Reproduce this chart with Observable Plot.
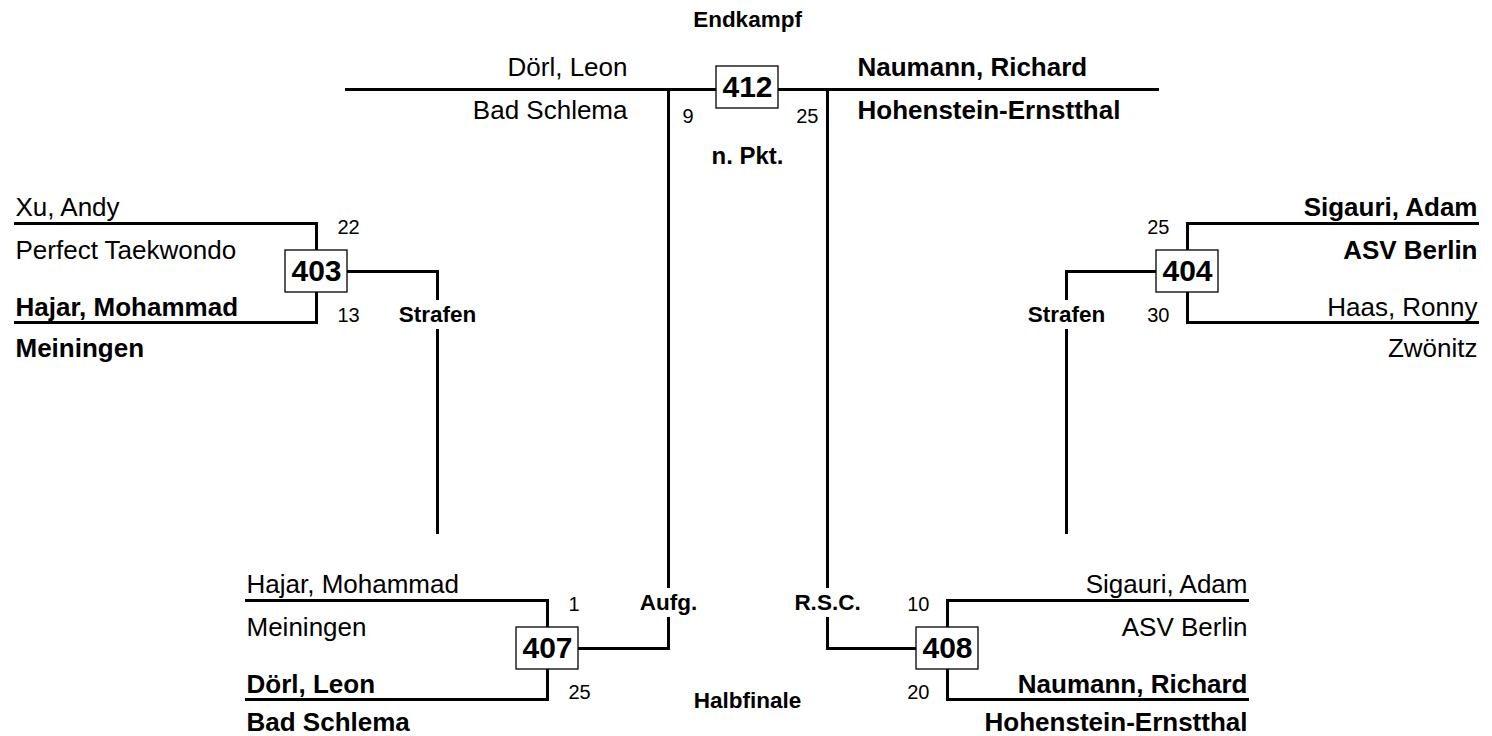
<!DOCTYPE html>
<html>
<head>
<meta charset="utf-8">
<script src="https://cdn.jsdelivr.net/npm/d3@7"></script>
<script src="https://cdn.jsdelivr.net/npm/@observablehq/plot@0.6"></script>
<style>
  html, body { margin: 0; padding: 0; background: #fff; }
  #chart svg { display: block; }
</style>
</head>
<body>
<div id="chart"></div>
<script>
// ---- Data (read from the bracket) ----
const matchIds     = ["403", "404", "407", "408", "412"];
const topNames     = ["Xu, Andy", "Sigauri, Adam", "Hajar, Mohammad", "Sigauri, Adam", "Dörl, Leon"];
const topClubs     = ["Perfect Taekwondo", "ASV Berlin", "Meiningen", "ASV Berlin", "Bad Schlema"];
const bottomNames  = ["Hajar, Mohammad", "Haas, Ronny", "Dörl, Leon", "Naumann, Richard", "Naumann, Richard"];
const bottomClubs  = ["Meiningen", "Zwönitz", "Bad Schlema", "Hohenstein-Ernstthal", "Hohenstein-Ernstthal"];
const topScores    = [22, 25, 1, 10, 9];
const bottomScores = [13, 30, 25, 20, 25];
const winners      = ["bottom", "top", "bottom", "bottom", "bottom"];
const decisions    = ["Strafen", "Strafen", "Aufg.", "R.S.C.", "n. Pkt."];
const roundTitles  = ["Endkampf", "Halbfinale"];

// ---- Layout (bracket geometry) ----
const W = 1492, H = 736;
const layout = {
  "403": {cx: 316,  cy: 271, dir: -1, reach: 301, outX: 437,  outY: 532, labelDy: 43},
  "404": {cx: 1187, cy: 271, dir:  1, reach: 290, outX: 1066, outY: 532, labelDy: 43},
  "407": {cx: 547,  cy: 648, dir: -1, reach: 301, outX: 668,  outY: 89,  labelDy: -46},
  "408": {cx: 947,  cy: 648, dir:  1, reach: 300, outX: 827,  outY: 89,  labelDy: -46}
};
const fin = {cx: 747, lineY: 89, left: 346, right: 1157, leftX: 668, rightX: 827};
const BOX_W = 31, BOX_H = 21, TOP_OFF = 48, BOT_OFF = 51, GAP = 16;
const NAME = 26, SCORE = 20, LABEL = 22.5, NUM = 30;

const segs = [], boxes = [], texts = [];

matchIds.forEach((id, i) => {
  const topWin = winners[i] === "top";
  if (id === "412") {
    segs.push({x1: fin.left, y1: fin.lineY, x2: fin.right, y2: fin.lineY});
    boxes.push({id, cx: fin.cx, cy: fin.lineY - 2});
    texts.push({t: topNames[i],    x: fin.leftX - 41,  y: fin.lineY - 22, a: "end",   b: topWin,  s: NAME});
    texts.push({t: topClubs[i],    x: fin.leftX - 41,  y: fin.lineY + 21, a: "end",   b: topWin,  s: NAME});
    texts.push({t: bottomNames[i], x: fin.rightX + 30, y: fin.lineY - 22, a: "start", b: !topWin, s: NAME});
    texts.push({t: bottomClubs[i], x: fin.rightX + 30, y: fin.lineY + 21, a: "start", b: !topWin, s: NAME});
    texts.push({t: String(topScores[i]),    x: fin.leftX + 14,  y: fin.lineY + 27, a: "start", b: false, s: SCORE});
    texts.push({t: String(bottomScores[i]), x: fin.rightX - 9,  y: fin.lineY + 27, a: "end",   b: false, s: SCORE});
    texts.push({t: decisions[i], x: fin.cx, y: fin.lineY + 67, a: "middle", b: true, s: 24});
    return;
  }
  const L = layout[id];
  const topY = L.cy - TOP_OFF, botY = L.cy + BOT_OFF;
  const end = L.cx + L.dir * L.reach;
  segs.push({x1: end, y1: topY, x2: L.cx, y2: topY});
  segs.push({x1: end, y1: botY, x2: L.cx, y2: botY});
  segs.push({x1: L.cx, y1: topY, x2: L.cx, y2: botY});
  // connector to the next round, interrupted by the decision label
  const ly = L.cy + L.labelDy;
  const sgn = Math.sign(L.outY - L.cy);
  segs.push({x1: L.cx, y1: L.cy, x2: L.outX, y2: L.cy});
  segs.push({x1: L.outX, y1: L.cy, x2: L.outX, y2: ly - sgn * GAP});
  segs.push({x1: L.outX, y1: ly + sgn * GAP, x2: L.outX, y2: L.outY});
  boxes.push({id, cx: L.cx, cy: L.cy});
  const anchor = L.dir < 0 ? "start" : "end";
  texts.push({t: topNames[i],    x: end, y: topY - 16, a: anchor, b: topWin,  s: NAME});
  texts.push({t: topClubs[i],    x: end, y: topY + 27, a: anchor, b: topWin,  s: NAME});
  texts.push({t: bottomNames[i], x: end, y: botY - 15, a: anchor, b: !topWin, s: NAME});
  texts.push({t: bottomClubs[i], x: end, y: Math.min(botY + 26, H - 14), a: anchor, b: !topWin, s: NAME});
  const sx = L.dir < 0 ? L.cx + 21 : L.cx - 18;
  const sa = L.dir < 0 ? "start" : "end";
  texts.push({t: String(topScores[i]),    x: sx, y: topY + 4, a: sa, b: false, s: SCORE});
  texts.push({t: String(bottomScores[i]), x: sx, y: botY - 7, a: sa, b: false, s: SCORE});
  texts.push({t: decisions[i], x: L.outX, y: ly, a: "middle", b: true, s: LABEL});
});
texts.push({t: roundTitles[0], x: fin.cx, y: 19,  a: "middle", b: true, s: LABEL});
texts.push({t: roundTitles[1], x: fin.cx, y: 700, a: "middle", b: true, s: LABEL});

const textMarks = [];
for (const a of ["start", "middle", "end"]) {
  for (const b of [false, true]) {
    const d = texts.filter(r => r.a === a && r.b === b);
    if (!d.length) continue;
    textMarks.push(Plot.text(d, {
      x: "x", y: "y", text: "t", fontSize: "s",
      textAnchor: a, fontWeight: b ? "bold" : "normal", fill: "#000"
    }));
  }
}

const chart = Plot.plot({
  width: W, height: H, margin: 0,
  x: {domain: [0, W], range: [0, W], axis: null},
  y: {domain: [0, H], range: [0, H], axis: null},
  style: {fontFamily: "'Liberation Sans', Arial, Helvetica, sans-serif", background: "#fff"},
  marks: [
    Plot.link(segs, {x1: "x1", y1: "y1", x2: "x2", y2: "y2", stroke: "#000", strokeWidth: 3, strokeLinecap: "square"}),
    Plot.rect(boxes, {x1: d => d.cx - BOX_W, x2: d => d.cx + BOX_W, y1: d => d.cy - BOX_H, y2: d => d.cy + BOX_H,
                      fill: "#fff", stroke: "#000", strokeWidth: 1.3}),
    Plot.text(boxes, {x: "cx", y: "cy", text: "id", fontSize: NUM, fontWeight: "bold", fill: "#000"}),
    ...textMarks
  ]
});
document.getElementById("chart").append(chart);
</script>
</body>
</html>
